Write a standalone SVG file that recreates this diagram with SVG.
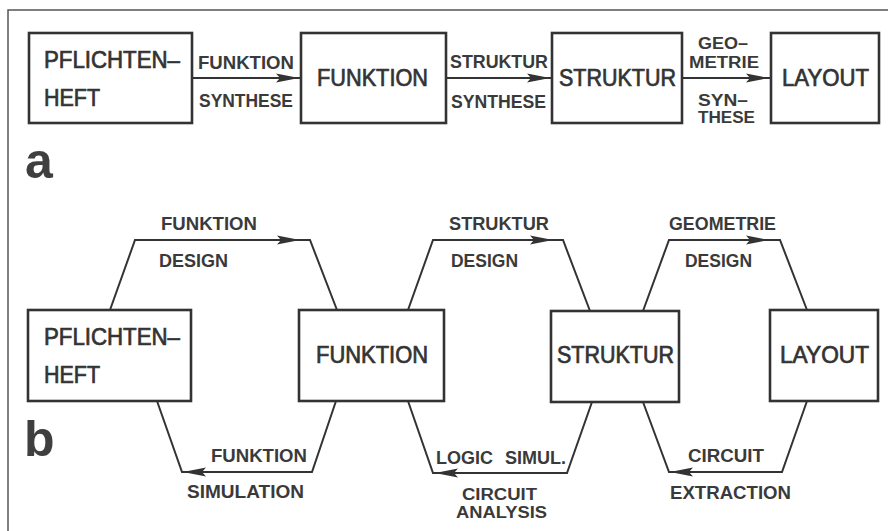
<svg xmlns="http://www.w3.org/2000/svg" width="888" height="531" viewBox="0 0 888 531">
  <style>
    .frame { fill: none; stroke: #555; stroke-width: 1.5; }
    .box { fill: #fff; stroke: #333; stroke-width: 2.6; }
    .wire { fill: none; stroke: #333; stroke-width: 2; stroke-linejoin: miter; }
    .head { fill: #333; }
    .node { font-family: "Liberation Sans", Arial, sans-serif; font-size: 23.5px; fill: #333; stroke: #333; stroke-width: 0.7; }
    .lbl { font-family: "Liberation Sans", Arial, sans-serif; font-size: 18px; font-weight: bold; fill: #3a3a3a; }
    .stack { font-size: 16px; }
    .tag { font-family: "Liberation Sans", Arial, sans-serif; font-size: 50px; font-weight: bold; fill: #3f3f3f; }
  </style>
  <defs>
    <!-- arrowhead with its tip at the origin, pointing right -->
    <path id="ah" class="head" d="M0,0 L-23,-4.5 L-19,0 L-23,4.5 Z"/>
  </defs>
  <rect width="888" height="531" fill="#fff"/>
  <polyline class="frame" points="8,531 8,10 888,10"/>

  <!-- part a: linear chain -->
  <g id="a-pflichtenheft">
    <rect class="box" x="29" y="33" width="163" height="90"/>
    <text class="node" x="44" y="68" textLength="136" lengthAdjust="spacingAndGlyphs">PFLICHTEN–</text>
    <text class="node" x="44" y="106" textLength="56" lengthAdjust="spacingAndGlyphs">HEFT</text>
  </g>
  <g id="a-funktion">
    <rect class="box" x="301" y="33" width="145" height="90"/>
    <text class="node" x="317" y="86" textLength="111" lengthAdjust="spacingAndGlyphs">FUNKTION</text>
  </g>
  <g id="a-struktur">
    <rect class="box" x="552" y="33" width="130" height="90"/>
    <text class="node" x="559" y="86" textLength="117" lengthAdjust="spacingAndGlyphs">STRUKTUR</text>
  </g>
  <g id="a-layout">
    <rect class="box" x="771" y="33" width="108" height="90"/>
    <text class="node" x="782" y="86" textLength="87" lengthAdjust="spacingAndGlyphs">LAYOUT</text>
  </g>
  <text class="tag" x="25" y="178">a</text>

  <g id="a-connectors">
    <line class="wire" x1="192" y1="78" x2="301" y2="78"/>
    <use href="#ah" transform="translate(299,78)"/>
    <line class="wire" x1="446" y1="78" x2="552" y2="78"/>
    <use href="#ah" transform="translate(550,78)"/>
    <line class="wire" x1="682" y1="78" x2="771" y2="78"/>
    <use href="#ah" transform="translate(769,78)"/>
  </g>
  <g id="a-labels">
    <text class="lbl" x="198" y="69" textLength="96" lengthAdjust="spacingAndGlyphs">FUNKTION</text>
    <text class="lbl" x="199" y="107" textLength="94" lengthAdjust="spacingAndGlyphs">SYNTHESE</text>
    <text class="lbl" x="450" y="68" textLength="98" lengthAdjust="spacingAndGlyphs">STRUKTUR</text>
    <text class="lbl" x="451" y="108" textLength="95" lengthAdjust="spacingAndGlyphs">SYNTHESE</text>
    <text class="lbl stack" x="698" y="49" textLength="50" lengthAdjust="spacingAndGlyphs">GEO–</text>
    <text class="lbl stack" x="689" y="68" textLength="70" lengthAdjust="spacingAndGlyphs">METRIE</text>
    <text class="lbl stack" x="698" y="106" textLength="50" lengthAdjust="spacingAndGlyphs">SYN–</text>
    <text class="lbl stack" x="698" y="123" textLength="57" lengthAdjust="spacingAndGlyphs">THESE</text>
  </g>

  <!-- part b: design and verification loops -->
  <g id="b-pflichtenheft">
    <rect class="box" x="28" y="310" width="163" height="91"/>
    <text class="node" x="44" y="345" textLength="136" lengthAdjust="spacingAndGlyphs">PFLICHTEN–</text>
    <text class="node" x="44" y="383" textLength="56" lengthAdjust="spacingAndGlyphs">HEFT</text>
  </g>
  <g id="b-funktion">
    <rect class="box" x="299" y="310" width="145" height="91"/>
    <text class="node" x="316" y="363" textLength="112" lengthAdjust="spacingAndGlyphs">FUNKTION</text>
  </g>
  <g id="b-struktur">
    <rect class="box" x="551" y="311" width="128" height="91"/>
    <text class="node" x="557" y="363" textLength="117" lengthAdjust="spacingAndGlyphs">STRUKTUR</text>
  </g>
  <g id="b-layout">
    <rect class="box" x="770" y="310" width="108" height="91"/>
    <text class="node" x="780" y="363" textLength="89" lengthAdjust="spacingAndGlyphs">LAYOUT</text>
  </g>
  <text class="tag" x="24" y="456">b</text>

  <g id="b-connectors">
    <polyline class="wire" points="110,310 135,240 310,240 337,310"/>
    <use href="#ah" transform="translate(300,240)"/>
    <polyline class="wire" points="336,401 312,472 182,472 157,401"/>
    <use href="#ah" transform="translate(183,472) rotate(180)"/>

    <polyline class="wire" points="408,310 433,240 563,240 590,311"/>
    <use href="#ah" transform="translate(553,240)"/>
    <polyline class="wire" points="592,402 567,473 433,473 408,401"/>
    <use href="#ah" transform="translate(435,473) rotate(180)"/>

    <polyline class="wire" points="643,311 669,240 780,240 807,310"/>
    <use href="#ah" transform="translate(769,240)"/>
    <polyline class="wire" points="807,401 782,472 669,472 643,402"/>
    <use href="#ah" transform="translate(670,472) rotate(180)"/>
  </g>
  <g id="b-labels">
    <text class="lbl" x="161" y="230" textLength="96" lengthAdjust="spacingAndGlyphs">FUNKTION</text>
    <text class="lbl" x="159" y="267" textLength="69" lengthAdjust="spacingAndGlyphs">DESIGN</text>
    <text class="lbl" x="449" y="230" textLength="100" lengthAdjust="spacingAndGlyphs">STRUKTUR</text>
    <text class="lbl" x="451" y="267" textLength="67" lengthAdjust="spacingAndGlyphs">DESIGN</text>
    <text class="lbl" x="669" y="230" textLength="107" lengthAdjust="spacingAndGlyphs">GEOMETRIE</text>
    <text class="lbl" x="685" y="267" textLength="67" lengthAdjust="spacingAndGlyphs">DESIGN</text>

    <text class="lbl" x="211" y="462" textLength="96" lengthAdjust="spacingAndGlyphs">FUNKTION</text>
    <text class="lbl" x="187" y="498" textLength="117" lengthAdjust="spacingAndGlyphs">SIMULATION</text>
    <text class="lbl" x="436" y="464" textLength="57" lengthAdjust="spacingAndGlyphs">LOGIC</text>
    <text class="lbl" x="505" y="464" textLength="61" lengthAdjust="spacingAndGlyphs">SIMUL.</text>
    <text class="lbl stack" x="462" y="500" textLength="75" lengthAdjust="spacingAndGlyphs">CIRCUIT</text>
    <text class="lbl stack" x="456" y="518" textLength="91" lengthAdjust="spacingAndGlyphs">ANALYSIS</text>
    <text class="lbl" x="688" y="462" textLength="76" lengthAdjust="spacingAndGlyphs">CIRCUIT</text>
    <text class="lbl" x="670" y="499" textLength="121" lengthAdjust="spacingAndGlyphs">EXTRACTION</text>
  </g>
</svg>
